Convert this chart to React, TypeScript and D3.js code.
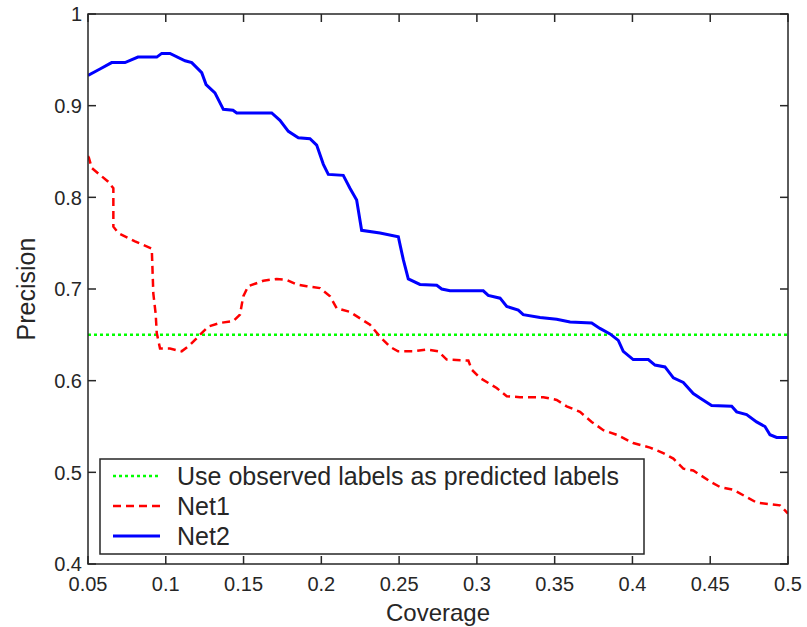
import React from "react";
import * as d3 from "d3";

// Coverage / precision readings
const xTicks = [0.05, 0.1, 0.15, 0.2, 0.25, 0.3, 0.35, 0.4, 0.45, 0.5];
const xTickLabels = ["0.05", "0.1", "0.15", "0.2", "0.25", "0.3", "0.35", "0.4", "0.45", "0.5"];
const yTicks = [0.4, 0.5, 0.6, 0.7, 0.8, 0.9, 1];
const yTickLabels = ["0.4", "0.5", "0.6", "0.7", "0.8", "0.9", "1"];

const baselinePrecision = 0.65;

const net1Coverage = [
  0.05, 0.0506, 0.0524, 0.063, 0.0663, 0.0663, 0.0695, 0.0802, 0.091, 0.092, 0.0935, 0.0942,
  0.0963, 0.1027, 0.1102, 0.1156, 0.122, 0.1273, 0.1349, 0.1434, 0.1477, 0.1498, 0.153,
  0.1627, 0.1713, 0.1777, 0.1842, 0.1906, 0.1991, 0.2056, 0.2099, 0.2184, 0.2249, 0.2313,
  0.2377, 0.2441, 0.2493, 0.2591, 0.2677, 0.2752, 0.2806, 0.2945, 0.2967, 0.302, 0.3127,
  0.3192, 0.3277, 0.3427, 0.3513, 0.3577, 0.3663, 0.3738, 0.3813, 0.3899, 0.4005, 0.4113,
  0.4198, 0.4263, 0.4327, 0.4391, 0.4509, 0.4563, 0.4648, 0.4734, 0.4798, 0.4948, 0.5,
];
const net1Precision = [
  0.845, 0.843, 0.832, 0.817, 0.81, 0.768, 0.761, 0.752, 0.744, 0.695, 0.673, 0.652,
  0.635, 0.635, 0.632, 0.639, 0.65, 0.659, 0.663, 0.665, 0.672, 0.692, 0.703,
  0.709, 0.711, 0.71, 0.705, 0.703, 0.701, 0.692, 0.679, 0.675, 0.668, 0.661,
  0.648, 0.637, 0.632, 0.632, 0.634, 0.632, 0.623, 0.622, 0.612, 0.603, 0.592,
  0.583, 0.582, 0.582, 0.579, 0.572, 0.566, 0.555, 0.546, 0.541, 0.532, 0.527,
  0.521, 0.515, 0.504, 0.502, 0.489, 0.484, 0.481, 0.473, 0.467, 0.464, 0.455,
];

const net2Coverage = [
  0.05, 0.0577, 0.0652, 0.0738, 0.0821, 0.0942, 0.0974, 0.1027, 0.1124, 0.1167, 0.1231,
  0.1259, 0.1316, 0.137, 0.1432, 0.1456, 0.1681, 0.1734, 0.1788, 0.1852, 0.1927, 0.197,
  0.2013, 0.2045, 0.2141, 0.2184, 0.2227, 0.2259, 0.2377, 0.2495, 0.2509, 0.2527, 0.2559,
  0.2634, 0.2742, 0.2774, 0.2827, 0.3041, 0.3073, 0.3149, 0.3192, 0.3266, 0.3298, 0.3406,
  0.3513, 0.3599, 0.3738, 0.3791, 0.3856, 0.3909, 0.3941, 0.4005, 0.4102, 0.4145, 0.4209,
  0.4263, 0.4327, 0.4391, 0.4434, 0.4509, 0.4638, 0.467, 0.4734, 0.4798, 0.4852, 0.4884,
  0.4927, 0.5,
];
const net2Precision = [
  0.933, 0.94, 0.947, 0.947, 0.953, 0.953, 0.957, 0.957, 0.949, 0.947, 0.936,
  0.923, 0.914, 0.896, 0.895, 0.892, 0.892, 0.884, 0.872, 0.865, 0.864, 0.857,
  0.836, 0.825, 0.824, 0.81, 0.797, 0.764, 0.761, 0.757, 0.746, 0.732, 0.711,
  0.705, 0.704, 0.7, 0.698, 0.698, 0.693, 0.69, 0.681, 0.677, 0.672, 0.669,
  0.667, 0.664, 0.663, 0.657, 0.651, 0.644, 0.632, 0.623, 0.623, 0.617, 0.615,
  0.603, 0.598, 0.586, 0.581, 0.573, 0.572, 0.566, 0.563, 0.555, 0.55, 0.541,
  0.538, 0.538,
];

const seriesNames = ["Use observed labels as predicted labels", "Net1", "Net2"];

const W = 807;
const H = 627;
const margin = { top: 14, right: 19, bottom: 63, left: 88 };
const font = "'Liberation Sans', Arial, sans-serif";
const ink = "#262626";

export default function App() {
  const x = d3.scaleLinear().domain([0.05, 0.5]).range([margin.left, W - margin.right]);
  const y = d3.scaleLinear().domain([0.4, 1]).range([H - margin.bottom, margin.top]);
  const [x0, x1] = x.range();
  const [y0, y1] = y.range();

  // line path for one series, columns kept in parallel arrays
  const path = (xs: number[], ys: number[]) =>
    d3
      .line<number>()
      .x((d) => x(d))
      .y((_, i) => y(ys[i]))(xs) || "";

  const tick = 8;

  // legend placement
  const lg = { x: 100, y: 459, w: 544, h: 95 };
  const rowY = [476, 506, 536];
  const styles = [
    { stroke: "#00ff00", dash: "3 3", width: 2.5 },
    { stroke: "#ff0000", dash: "8 5", width: 2.5 },
    { stroke: "#0000ff", dash: undefined, width: 3 },
  ];

  return (
    <svg
      width={W}
      height={H}
      style={{ position: "absolute", left: 0, top: 0, background: "#fff" }}
      fontFamily={font}
    >
      <rect x={0} y={0} width={W} height={H} fill="#fff" />
      <defs>
        <clipPath id="plot">
          <rect x={x0} y={y1} width={x1 - x0} height={y0 - y1} />
        </clipPath>
      </defs>

      <g clipPath="url(#plot)">
        <line
          x1={x0}
          x2={x1}
          y1={y(baselinePrecision)}
          y2={y(baselinePrecision)}
          stroke={styles[0].stroke}
          strokeWidth={styles[0].width}
          strokeDasharray={styles[0].dash}
        />
        <path
          d={path(net1Coverage, net1Precision)}
          fill="none"
          stroke={styles[1].stroke}
          strokeWidth={styles[1].width}
          strokeDasharray={styles[1].dash}
        />
        <path
          d={path(net2Coverage, net2Precision)}
          fill="none"
          stroke={styles[2].stroke}
          strokeWidth={styles[2].width}
        />
      </g>

      {/* frame and inward ticks */}
      <rect x={x0} y={y1} width={x1 - x0} height={y0 - y1} fill="none" stroke={ink} strokeWidth={1.5} />
      {xTicks.map((t, i) => (
        <g key={"xt" + i}>
          <line x1={x(t)} x2={x(t)} y1={y0} y2={y0 - tick} stroke={ink} strokeWidth={1.5} />
          <line x1={x(t)} x2={x(t)} y1={y1} y2={y1 + tick} stroke={ink} strokeWidth={1.5} />
          <text x={x(t)} y={y0 + 27} fontSize={20} fill={ink} textAnchor="middle">
            {xTickLabels[i]}
          </text>
        </g>
      ))}
      {yTicks.map((t, i) => (
        <g key={"yt" + i}>
          <line x1={x0} x2={x0 + tick} y1={y(t)} y2={y(t)} stroke={ink} strokeWidth={1.5} />
          <line x1={x1} x2={x1 - tick} y1={y(t)} y2={y(t)} stroke={ink} strokeWidth={1.5} />
          <text x={x0 - 6} y={y(t)} dy="0.36em" fontSize={20} fill={ink} textAnchor="end">
            {yTickLabels[i]}
          </text>
        </g>
      ))}

      <text x={(x0 + x1) / 2} y={621} fontSize={24} fill={ink} textAnchor="middle">
        Coverage
      </text>
      <text
        transform={`translate(35,${(y0 + y1) / 2}) rotate(-90)`}
        fontSize={25}
        fill={ink}
        textAnchor="middle"
      >
        Precision
      </text>

      {/* legend */}
      <rect x={lg.x} y={lg.y} width={lg.w} height={lg.h} fill="#fff" stroke={ink} strokeWidth={1.5} />
      {seriesNames.map((name, i) => (
        <g key={name}>
          <line
            x1={113}
            x2={160}
            y1={rowY[i]}
            y2={rowY[i]}
            stroke={styles[i].stroke}
            strokeWidth={styles[i].width}
            strokeDasharray={styles[i].dash}
          />
          <text x={177} y={rowY[i] + 9} fontSize={25} fill={ink}>
            {name}
          </text>
        </g>
      ))}
    </svg>
  );
}
